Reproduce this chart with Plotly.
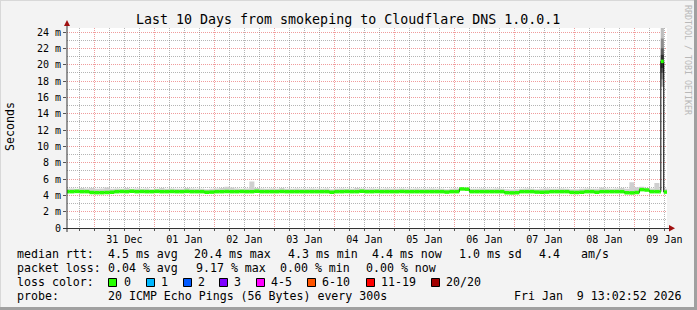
import plotly.graph_objects as go
import pandas as pd

# ---------------- data ----------------
body_start = "2025-12-30 12:00"  # 2-hour buckets
body_median = [
    4.45, 4.45, 4.48, 4.45, 4.45, 4.35, 4.33, 4.33, 4.35, 4.38,
    4.45, 4.47, 4.45, 4.50, 4.45, 4.47, 4.45, 4.45, 4.48, 4.45,
    4.45, 4.47, 4.45, 4.45, 4.48, 4.45, 4.45, 4.45, 4.38, 4.40,
    4.45, 4.45, 4.47, 4.45, 4.45, 4.47, 4.45, 4.45, 4.50, 4.45,
    4.45, 4.45, 4.45, 4.47, 4.45, 4.45, 4.45, 4.45, 4.45, 4.45,
    4.45, 4.45, 4.45, 4.38, 4.45, 4.45, 4.47, 4.45, 4.45, 4.50,
    4.45, 4.45, 4.47, 4.45, 4.45, 4.45, 4.45, 4.47, 4.45, 4.45,
    4.45, 4.45, 4.45, 4.45, 4.45, 4.45, 4.40, 4.45, 4.45, 4.78,
    4.75, 4.45, 4.45, 4.45, 4.45, 4.45, 4.45, 4.45, 4.32, 4.30,
    4.32, 4.45, 4.45, 4.45, 4.40, 4.38, 4.40, 4.45, 4.45, 4.45,
    4.45, 4.36, 4.35, 4.38, 4.45, 4.45, 4.38, 4.45, 4.45, 4.45,
    4.45, 4.45, 4.32, 4.30, 4.35, 4.70, 4.65, 4.45, 4.45, 4.45,
]
body_smoke_hi = [
    4.80, 4.85, 4.80, 4.90, 4.85, 4.90, 4.80, 4.85, 4.95, 4.80,
    4.85, 4.80, 4.90, 4.80, 4.85, 4.80, 4.85, 4.75, 4.80, 4.90,
    4.80, 4.85, 4.80, 4.80, 4.90, 4.85, 4.80, 4.80, 4.75, 4.80,
    4.85, 4.90, 5.05, 4.95, 4.85, 4.80, 4.85, 5.70, 4.90, 4.85,
    4.80, 4.85, 4.80, 4.90, 4.80, 4.80, 4.85, 4.80, 4.80, 4.85,
    4.80, 4.80, 4.85, 4.75, 4.80, 4.85, 4.80, 4.80, 4.90, 4.85,
    4.80, 4.85, 4.80, 4.80, 4.85, 4.80, 4.80, 4.85, 4.80, 4.80,
    4.85, 4.80, 4.80, 4.85, 4.80, 4.80, 4.75, 4.80, 4.85, 4.90,
    4.90, 4.80, 4.80, 4.85, 4.80, 4.80, 4.85, 4.80, 4.75, 4.70,
    4.75, 4.80, 4.85, 4.80, 4.75, 4.80, 4.85, 4.80, 4.80, 4.85,
    4.80, 4.75, 4.75, 4.80, 4.85, 4.80, 4.80, 4.95, 4.85, 4.80,
    4.85, 4.90, 4.80, 5.60, 5.00, 5.05, 4.90, 4.85, 5.50, 4.85,
]
tail_times = ["2026-01-09 10:35", "2026-01-09 11:45", "2026-01-09 13:03"]
tail_median = [20.4, 4.4, 4.4]
tail_smoke_hi = [24.6, 4.8, 4.8]

spike_window = ["2026-01-09 10:35", "2026-01-09 11:45"]
spike_band_lo = [17.3, 18.2, 19.0, 19.6]
spike_band_hi = [24.6, 23.2, 22.0, 21.2]

x_start = "2025-12-30 13:03"
x_end = "2026-01-09 13:03"
y_max = 24.49
y_ticks = [0, 2, 4, 6, 8, 10, 12, 14, 16, 18, 20, 22, 24]
y_ticktext = ["0", "2 m", "4 m", "6 m", "8 m", "10 m", "12 m", "14 m",
              "16 m", "18 m", "20 m", "22 m", "24 m"]

title_text = "Last 10 Days from smokeping to Cloudflare DNS 1.0.0.1"
rtt_label = "median rtt:"
rtt_stats = ["4.5 ms avg", "20.4 ms max", "4.3 ms min", "4.4 ms now",
             "1.0 ms sd", "4.4", "am/s"]
loss_label = "packet loss:"
loss_stats = ["0.04 % avg", "9.17 % max", "0.00 % min", "0.00 % now"]
color_label = "loss color:"
loss_labels = ["0", "1", "2", "3", "4-5", "6-10", "11-19", "20/20"]
probe_label = "probe:"
probe_text = "20 ICMP Echo Pings (56 Bytes) every 300s"
stamp_text = "Fri Jan  9 13:02:52 2026"
watermark = "RRDTOOL / TOBI OETIKER"

# ---------------- styles / layout ----------------
loss_colors = ["#26ff00", "#00b8ff", "#0059ff", "#7e00ff",
               "#ff00ff", "#ff5500", "#ff0000", "#a10000"]
spike_colors = ["#BDBDBD", "#8C8C8C", "#5A5A5A", "#2E2E2E"]
MAJOR_GRID = "rgba(230,90,90,0.6)"
MINOR_GRID = "rgba(120,120,120,0.55)"
MONO = "DejaVu Sans Mono"
W, H = 697, 310
PL, PR, PT, PB = 67, 667, 28, 228   # plot area in pixels

rtt_x = [106.5, 192.5, 286.5, 371.5, 457.5, 537.5, 579.5]
loss_x = [106.5, 194.5, 278.5, 364.5]
box_x = [108, 146, 183, 219, 256, 307, 366, 431]
box_label_x = [122.5, 159.5, 196.5, 232.5, 269.5, 320.5, 379.5, 444.5]
row_y = [254, 268, 282, 296]


def px(x):
    return (x - PL) / (PR - PL)


def py(y):
    return (PB - y) / (PB - PT)


body_times = pd.date_range(body_start, periods=len(body_median), freq="2h")
times = list(body_times.strftime("%Y-%m-%d %H:%M")) + tail_times
median = body_median + tail_median
smoke_hi = body_smoke_hi + tail_smoke_hi

# minor grid positions (derived from the axis range, not data)
minor_x = [t.strftime("%Y-%m-%d %H:%M")
           for t in pd.date_range("2025-12-30 18:00", x_end, freq="6h") if t.hour != 0]
minor_y = list(range(1, int(y_max) + 1, 2))

fig = go.Figure()

# invisible trace that anchors the overlay grid axes
fig.add_trace(go.Scatter(x=[x_start, x_end], y=[0, y_max], xaxis="x2", yaxis="y2",
                         mode="markers", marker=dict(opacity=0), hoverinfo="skip",
                         showlegend=False))

# smoke (median -> max)
fig.add_trace(go.Scatter(x=times, y=median, mode="lines", line=dict(width=0, shape="hv"),
                         hoverinfo="skip", showlegend=False))
fig.add_trace(go.Scatter(x=times, y=smoke_hi, mode="lines", line=dict(width=0, shape="hv"),
                         fill="tonexty", fillcolor="#CFCFCF", hoverinfo="skip", showlegend=False))

# spike smoke bands
for lo, hi, c in zip(spike_band_lo, spike_band_hi, spike_colors):
    fig.add_trace(go.Scatter(x=spike_window, y=[lo, lo], mode="lines",
                             line=dict(width=0, shape="hv"), hoverinfo="skip", showlegend=False))
    fig.add_trace(go.Scatter(x=spike_window, y=[hi, hi], mode="lines",
                             line=dict(width=0, shape="hv"), fill="tonexty", fillcolor=c,
                             hoverinfo="skip", showlegend=False))

# black median line
fig.add_trace(go.Scatter(x=times, y=median, mode="lines",
                         line=dict(color="#000000", width=1, shape="hv"),
                         hoverinfo="skip", showlegend=False))

# green loss-coloured horizontal segments
gx, gy = [], []
for k in range(len(times) - 1):
    gx += [times[k], times[k + 1], None]
    gy += [median[k], median[k], None]
fig.add_trace(go.Scatter(x=gx, y=gy, mode="lines",
                         line=dict(color=loss_colors[0], width=3.5),
                         hoverinfo="skip", showlegend=False))

shapes = []
# border
shapes.append(dict(type="line", xref="paper", yref="paper", x0=px(0.5), x1=px(0.5), y0=py(0), y1=py(H),
                   line=dict(color="#D8D8D8", width=1)))
shapes.append(dict(type="line", xref="paper", yref="paper", x0=px(0), x1=px(W), y0=py(0.5), y1=py(0.5),
                   line=dict(color="#D8D8D8", width=1)))
shapes.append(dict(type="line", xref="paper", yref="paper", x0=px(695.5), x1=px(695.5), y0=py(0), y1=py(H),
                   line=dict(color="#A0A0A0", width=3)))
shapes.append(dict(type="line", xref="paper", yref="paper", x0=px(0), x1=px(W), y0=py(308.5), y1=py(308.5),
                   line=dict(color="#A0A0A0", width=3)))
# axis lines
shapes.append(dict(type="line", xref="paper", yref="paper", x0=px(63), x1=px(670), y0=py(228.5), y1=py(228.5),
                   line=dict(color="#333333", width=1)))
shapes.append(dict(type="line", xref="paper", yref="paper", x0=px(67), x1=px(67), y0=py(232), y1=py(23),
                   line=dict(color="#333333", width=1)))
# arrows
shapes.append(dict(type="path", xref="paper", yref="paper",
                   path=f"M {px(64)} {py(26)} L {px(70)} {py(26)} L {px(67)} {py(20)} Z",
                   fillcolor="#A01010", line=dict(width=0)))
shapes.append(dict(type="path", xref="paper", yref="paper",
                   path=f"M {px(669)} {py(225)} L {px(669)} {py(231.5)} L {px(675)} {py(228.3)} Z",
                   fillcolor="#A01010", line=dict(width=0)))
# loss colour boxes
for bx, c in zip(box_x, loss_colors):
    shapes.append(dict(type="rect", xref="paper", yref="paper",
                       x0=px(bx + 0.5), x1=px(bx + 8.5), y0=py(row_y[2] - 3.5), y1=py(row_y[2] + 4.5),
                       fillcolor=c, line=dict(color="#000000", width=1)))

ann = []


def text(x, y, s, size=11.6, color="#000000", anchor="left", angle=0):
    ann.append(dict(xref="paper", yref="paper", x=px(x), y=py(y), text=s, showarrow=False,
                    xanchor=anchor, yanchor="middle", textangle=angle,
                    font=dict(family=MONO, size=size, color=color), borderpad=0))


text(348, 19, title_text, size=13.3, anchor="center")
text(10, 127, "Seconds", size=11.6, anchor="center", angle=-90)
text(688, 60, watermark, size=8.3, color="#B8B8B8", anchor="center", angle=90)

text(15.5, row_y[0], rtt_label)
for x, s in zip(rtt_x, rtt_stats):
    text(x, row_y[0], s)
text(15.5, row_y[1], loss_label)
for x, s in zip(loss_x, loss_stats):
    text(x, row_y[1], s)
text(15.5, row_y[2], color_label)
for x, s in zip(box_label_x, loss_labels):
    text(x, row_y[2], s)
text(15.5, row_y[3], probe_label)
text(106.5, row_y[3], probe_text)
text(512.5, row_y[3], stamp_text)

fig.update_layout(
    width=W, height=H,
    margin=dict(l=PL, r=W - PR, t=PT, b=H - PB),
    paper_bgcolor="#F3F3F3", plot_bgcolor="#FFFFFF",
    shapes=shapes, annotations=ann, showlegend=False,
    xaxis=dict(
        type="date", range=[x_start, x_end],
        tick0="2025-12-31 00:00", dtick=86400000, tickformat="%d %b",
        ticklabelshift=30, ticks="outside", ticklen=2, tickcolor="#555555",
        tickfont=dict(family=MONO, size=10, color="#000000"),
        showgrid=True, gridcolor=MAJOR_GRID, griddash="1px,1px", gridwidth=1,
        minor=dict(dtick=21600000, tick0="2025-12-31 00:00", ticks="outside",
                   ticklen=2, tickcolor="#555555", showgrid=False),
        showline=False, zeroline=False, fixedrange=True,
    ),
    yaxis=dict(
        range=[0, y_max], tickmode="array", tickvals=y_ticks, ticktext=y_ticktext,
        ticks="outside", ticklen=3, tickcolor="#555555",
        tickfont=dict(family=MONO, size=10, color="#000000"),
        showgrid=True, gridcolor=MAJOR_GRID, griddash="1px,1px", gridwidth=1,
        showline=False, zeroline=False, fixedrange=True,
    ),
    xaxis2=dict(
        type="date", range=[x_start, x_end], overlaying="x", side="bottom",
        tickmode="array", tickvals=minor_x, showticklabels=False, ticks="",
        showgrid=True, gridcolor=MINOR_GRID, griddash="1px,1px", gridwidth=1,
        showline=False, zeroline=False, fixedrange=True,
    ),
    yaxis2=dict(
        range=[0, y_max], overlaying="y", side="left",
        tickmode="array", tickvals=minor_y, showticklabels=False, ticks="",
        showgrid=True, gridcolor=MINOR_GRID, griddash="1px,1px", gridwidth=1,
        showline=False, zeroline=False, fixedrange=True,
    ),
)

fig.write_html("out.html", config={"displayModeBar": False})
